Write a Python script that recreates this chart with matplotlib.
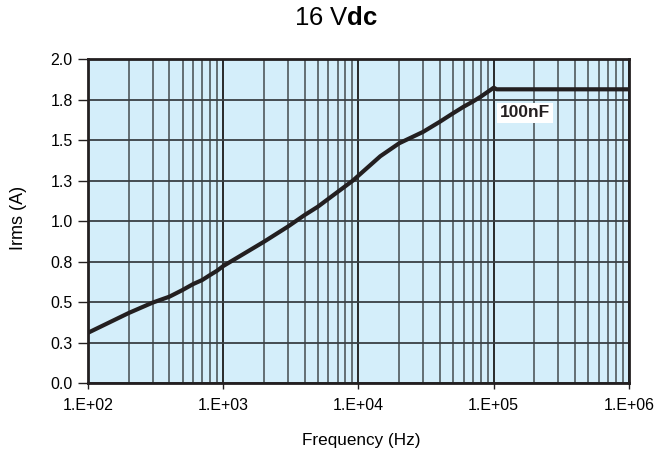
import matplotlib
matplotlib.use("Agg")
import matplotlib.pyplot as plt
from matplotlib.ticker import FixedLocator, NullFormatter

plt.rcParams['font.family'] = ['Liberation Sans', 'DejaVu Sans']
plt.rcParams['mathtext.fontset'] = 'custom'
plt.rcParams['mathtext.rm'] = 'Liberation Sans'
plt.rcParams['mathtext.bf'] = 'Liberation Sans:bold'

# curve
freq = [1e2, 2e2, 3e2, 4e2, 5e2, 6e2, 7e2, 8e2, 9e2, 1e3, 2e3, 3e3, 4e3, 5e3,
        9.1e3, 1.45e4, 2e4, 3e4, 4e4, 5e4, 6e4, 7e4, 8e4, 1e5, 1.05e5, 1e6]
irms = [0.31, 0.432, 0.496, 0.533, 0.574, 0.611, 0.636, 0.667, 0.693, 0.722,
        0.872, 0.965, 1.037, 1.088, 1.25, 1.40, 1.48, 1.55, 1.613, 1.665,
        1.706, 1.737, 1.767, 1.823, 1.813, 1.813]

x_ticks = [1e2, 1e3, 1e4, 1e5, 1e6]
x_labels = ["1.E+02", "1.E+03", "1.E+04", "1.E+05", "1.E+06"]
y_ticks = [0, 0.25, 0.5, 0.75, 1.0, 1.25, 1.5, 1.75, 2.0]
y_labels = ["0.0", "0.3", "0.5", "0.8", "1.0", "1.3", "1.5", "1.8", "2.0"]

fig = plt.figure(figsize=(6.7, 4.55), dpi=100)
ax = fig.add_axes([0.1313, 0.1582, 0.8075, 0.7121])
ax.set_facecolor('#d4eefa')

ax.set_xscale('log')
ax.set_xlim(1e2, 1e6)
ax.set_ylim(0, 2.0)

# grid: minor verticals gray, decades black
minors = [m * 10**e for e in range(2, 6) for m in range(2, 10)]
for xv in minors:
    ax.axvline(xv, color='#5a6468', lw=1.3, zorder=1)
for xv in x_ticks:
    ax.axvline(xv, color='#1a1a1a', lw=1.3, zorder=1)
for yv in y_ticks:
    ax.axhline(yv, color='#3a4044', lw=1.3, zorder=1)

ax.plot(freq, irms, color='#231f20', lw=3, zorder=3, solid_capstyle='butt')

ax.text(1.11e5, 1.667, "100nF", fontsize=12.5, fontweight='bold', va='center',
        ha='left', color='#231f20', zorder=4,
        bbox=dict(facecolor='white', edgecolor='none', pad=2))

ax.xaxis.set_major_locator(FixedLocator(x_ticks))
ax.set_xticklabels(x_labels)
ax.xaxis.set_minor_locator(FixedLocator(minors))
ax.xaxis.set_minor_formatter(NullFormatter())
ax.tick_params(axis='x', which='minor', length=0)
ax.set_yticks(y_ticks)
ax.set_yticklabels(y_labels)
ax.tick_params(axis='x', which='major', direction='out', length=4.5,
               width=1, labelsize=11.5, color='#231f20', pad=6)
ax.tick_params(axis='y', which='major', direction='out', length=7,
               width=1, labelsize=11.5, color='#231f20', pad=4)

for s in ax.spines.values():
    s.set_linewidth(2)
    s.set_color('#231f20')

ax.set_xlabel("Frequency (Hz)", fontsize=12.3, va='center')
ax.xaxis.set_label_coords(0.5046, -0.176)
ax.set_ylabel("Irms (A)", fontsize=13, va='center')
ax.yaxis.set_label_coords(-0.129, 0.511)
fig.text(0.5015, 0.9604, r"16 V$\mathbf{dc}$", fontsize=18.5, ha='center',
         va='center')

fig.savefig("out.png", dpi=100)
